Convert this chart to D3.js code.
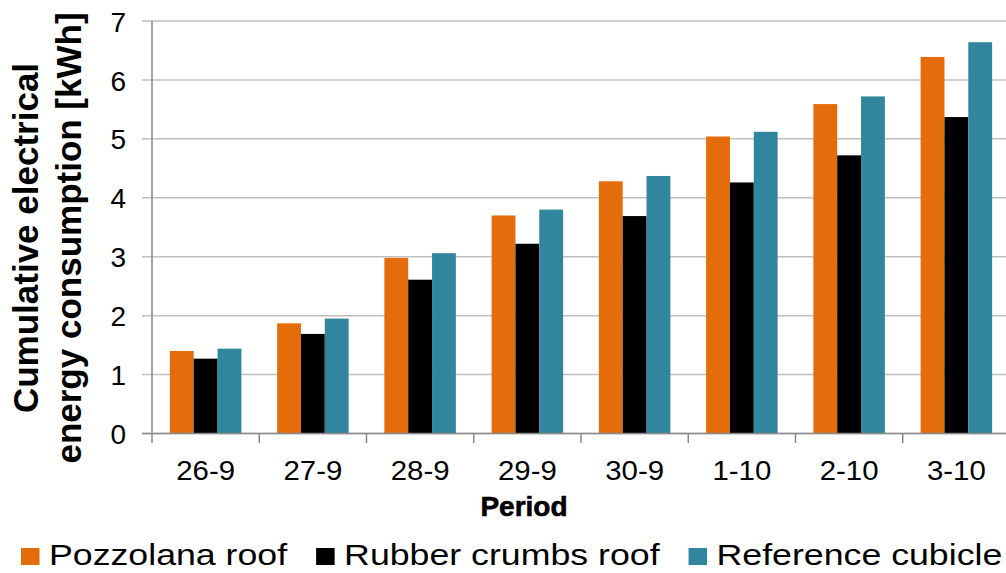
<!DOCTYPE html>
<html>
<head>
<meta charset="utf-8">
<script src="https://cdn.jsdelivr.net/npm/d3@7"></script>
<style>
  html, body { margin: 0; padding: 0; background: #fff; }
  svg { display: block; font-family: "Liberation Sans", Arial, sans-serif; }
</style>
</head>
<body>
<svg id="chart" width="1006" height="573"></svg>
<script>
const categories = ["26-9", "27-9", "28-9", "29-9", "30-9", "1-10", "2-10", "3-10"];
const seriesNames = ["Pozzolana roof", "Rubber crumbs roof", "Reference cubicle"];
const pozzolana = [1.40, 1.87, 2.98, 3.70, 4.28, 5.04, 5.59, 6.39];
const rubber    = [1.27, 1.69, 2.61, 3.22, 3.69, 4.26, 4.72, 5.37];
const reference = [1.44, 1.95, 3.06, 3.80, 4.37, 5.12, 5.72, 6.64];
const seriesColors = ["#E46C0A", "#000000", "#31859C"];
const yTicks = [0, 1, 2, 3, 4, 5, 6, 7];
const yTitleLines = ["Cumulative electrical", "energy consumption [kWh]"];
const xTitle = "Period";

const seriesValues = [pozzolana, rubber, reference];
const svg = d3.select("#chart");

const x0 = d3.scaleBand().domain(categories).range([152, 1010]).paddingInner(0).paddingOuter(0);
const x1 = d3.scaleBand().domain(seriesNames).range([0, x0.bandwidth()]).paddingInner(0).paddingOuter(0.75);
const y = d3.scaleLinear().domain([0, 7]).range([433.5, 21]);
const color = d3.scaleOrdinal().domain(seriesNames).range(seriesColors);

// gridlines (with outward tick stubs)
svg.append("g").selectAll("line").data(yTicks).join("line")
  .attr("x1", 142).attr("x2", 1010)
  .attr("y1", d => y(d)).attr("y2", d => y(d))
  .attr("stroke", "#BFBFBF").attr("stroke-width", 1.5);

// y tick labels via axis
const yAxis = svg.append("g").attr("transform", "translate(152,0)")
  .call(d3.axisLeft(y).tickValues(yTicks).tickSize(0).tickPadding(26).tickFormat(d3.format("d")));
yAxis.select(".domain").remove();
yAxis.selectAll("text").attr("font-size", 28).attr("fill", "#000").attr("font-family", "Liberation Sans, Arial, sans-serif").attr("dy", "0.36em");

// bars
const groups = svg.append("g").selectAll("g").data(categories).join("g")
  .attr("transform", d => `translate(${x0(d)},0)`);
groups.selectAll("rect")
  .data((c, i) => seriesNames.map((s, k) => ({ s, v: seriesValues[k][i] })))
  .join("rect")
  .attr("x", d => x1(d.s))
  .attr("width", x1.bandwidth())
  .attr("y", d => y(d.v))
  .attr("height", d => y(0) - y(d.v))
  .attr("fill", d => color(d.s));

// axis lines
svg.append("line").attr("x1", 152).attr("x2", 152).attr("y1", 21).attr("y2", 443)
  .attr("stroke", "#898989").attr("stroke-width", 1.5);
svg.append("line").attr("x1", 142).attr("x2", 1010).attr("y1", y(0)).attr("y2", y(0))
  .attr("stroke", "#898989").attr("stroke-width", 1.5);
// category boundary ticks
svg.append("g").selectAll("line").data(categories.slice(1)).join("line")
  .attr("x1", d => x0(d)).attr("x2", d => x0(d))
  .attr("y1", y(0)).attr("y2", 443)
  .attr("stroke", "#898989").attr("stroke-width", 1.5);

// x tick labels via axis
const xAxis = svg.append("g").attr("transform", `translate(0,${y(0)})`)
  .call(d3.axisBottom(x0).tickSize(0).tickPadding(0));
xAxis.select(".domain").remove();
xAxis.selectAll("text")
  .attr("font-size", 28).attr("fill", "#000").attr("font-family", "Liberation Sans, Arial, sans-serif")
  .attr("dy", 0).attr("y", 0)
  .attr("transform", "translate(0,46) scale(1.05,1)");

// x title
svg.append("text").attr("x", 524).attr("y", 516)
  .attr("text-anchor", "middle").attr("font-size", 28).attr("font-weight", "bold")
  .attr("stroke", "#000").attr("stroke-width", 0.6)
  .text(xTitle);

// y title
svg.append("g").selectAll("text").data(yTitleLines).join("text")
  .attr("transform", (d, i) => `translate(${38 + i * 43},238) rotate(-90)`)
  .attr("text-anchor", "middle").attr("font-size", 35).attr("font-weight", "bold")
  .text(d => d);

// legend
const legend = svg.append("g");
let lx = 21;
seriesNames.forEach((name, i) => {
  legend.append("rect").attr("x", lx).attr("y", 548).attr("width", 18.5).attr("height", 17)
    .attr("fill", color(name));
  const t = legend.append("text")
    .attr("transform", `translate(${lx + 28},565) scale(1.19,1)`)
    .attr("font-size", 30).text(name);
  const w = t.node().getComputedTextLength() * 1.19;
  lx = lx + 28 + w + 29;
});
</script>
</body>
</html>
